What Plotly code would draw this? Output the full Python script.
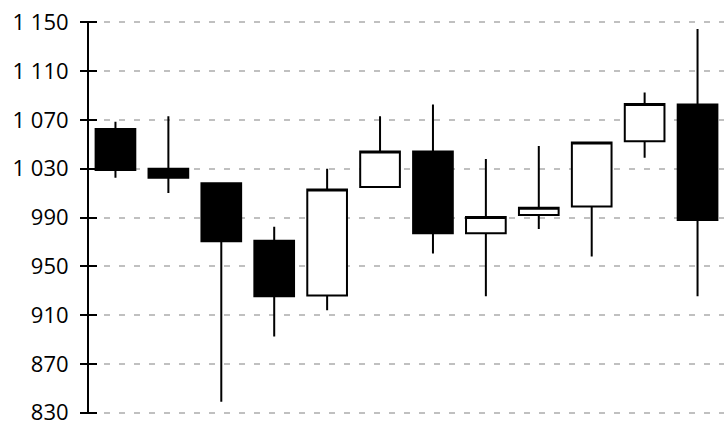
import plotly.graph_objects as go

# Data
periods = list(range(12))
open_vals = [1062.5, 1030, 1018, 971, 926, 1015, 1044, 977, 992, 999, 1052.5, 1082.5]
high_vals = [1068.5, 1073, 1018, 982.5, 1030, 1073, 1082.5, 1038, 1048.5, 1051.5, 1092.5, 1144.5]
low_vals = [1022.5, 1010, 839, 892.5, 914, 1015, 960.5, 925.5, 980.5, 958, 1039, 925.5]
close_vals = [1029, 1022.5, 970.5, 925.5, 1013, 1044, 977, 990.5, 998, 1051.5, 1083, 988]
y_ticks = list(range(830, 1151, 40))

fig = go.Figure()
fig.add_trace(go.Candlestick(
    x=periods, open=open_vals, high=high_vals, low=low_vals, close=close_vals,
    increasing=dict(fillcolor="white", line=dict(color="black", width=2)),
    decreasing=dict(fillcolor="black", line=dict(color="black", width=2)),
    whiskerwidth=0, showlegend=False, hoverinfo="skip",
))
# helper trace so the overlaying axis (inner tick half) is drawn
fig.add_trace(go.Scatter(x=[periods[0]], y=[y_ticks[0]], yaxis="y2", mode="markers",
                         marker=dict(opacity=0), showlegend=False, hoverinfo="skip"))

y_range = [829, 1151]

fig.update_layout(
    template="none",
    width=724, height=421,
    margin=dict(l=89, r=0, t=21, b=7, pad=0),
    paper_bgcolor="white", plot_bgcolor="white",
    separators=". ",
    boxgap=0.25, boxgroupgap=0,
    showlegend=False,
    font=dict(family="Open Sans", size=22, color="black"),
    xaxis=dict(
        range=[-0.5, 11.5], showticklabels=False, showgrid=False, zeroline=False,
        showline=False, ticks="", rangeslider=dict(visible=False), automargin=False,
    ),
    yaxis=dict(
        range=y_range, tickvals=y_ticks, tickformat=",d",
        showgrid=True, gridcolor="#c0c0c0", gridwidth=2, griddash="6px,9px",
        zeroline=False, showline=True, linecolor="black", linewidth=2,
        ticks="outside", ticklen=7, tickwidth=2, tickcolor="black",
        ticklabelstandoff=7, ticklabeloverflow="allow", automargin=False,
        tickfont=dict(family="Open Sans", size=22, color="black"),
    ),
    yaxis2=dict(
        overlaying="y", side="left", range=y_range, tickvals=y_ticks,
        showticklabels=False, showgrid=False, zeroline=False, showline=False,
        ticks="inside", ticklen=8, tickwidth=2, tickcolor="black", automargin=False,
    ),
)

fig.write_html("out.html", config={"displayModeBar": False},
               post_script="document.body.style.margin='0';")
